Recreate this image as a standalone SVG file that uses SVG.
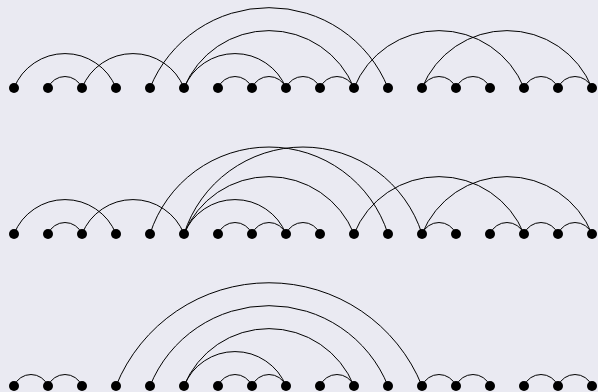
<svg xmlns="http://www.w3.org/2000/svg" width="598" height="392" viewBox="0 0 598 392">
<style>
.e{fill:none;stroke:#000;stroke-width:1}
.n{fill:#000}
</style>
<rect width="598" height="392" fill="#eaeaf2"/>
<g id="connectors">
<g id="row1-arcs">
<path class="e" d="M14 88A55 55 0 0 1 116 88"/>
<path class="e" d="M48 88A18.33 18.33 0 0 1 82 88"/>
<path class="e" d="M82 88A55 55 0 0 1 184 88"/>
<path class="e" d="M150 88A128.3 128.3 0 0 1 388 88"/>
<path class="e" d="M184 88A91.65 91.65 0 0 1 354 88"/>
<path class="e" d="M184 88A55 55 0 0 1 286 88"/>
<path class="e" d="M218 88A18.33 18.33 0 0 1 252 88"/>
<path class="e" d="M252 88A18.33 18.33 0 0 1 286 88"/>
<path class="e" d="M286 88A18.33 18.33 0 0 1 320 88"/>
<path class="e" d="M320 88A18.33 18.33 0 0 1 354 88"/>
<path class="e" d="M354 88A91.65 91.65 0 0 1 524 88"/>
<path class="e" d="M422 88A91.65 91.65 0 0 1 592 88"/>
<path class="e" d="M422 88A18.33 18.33 0 0 1 456 88"/>
<path class="e" d="M456 88A18.33 18.33 0 0 1 490 88"/>
<path class="e" d="M524 88A18.33 18.33 0 0 1 558 88"/>
<path class="e" d="M558 88A18.33 18.33 0 0 1 592 88"/>
</g>
<g id="row2-arcs">
<path class="e" d="M14 234A55 55 0 0 1 116 234"/>
<path class="e" d="M48 234A18.33 18.33 0 0 1 82 234"/>
<path class="e" d="M82 234A55 55 0 0 1 184 234"/>
<path class="e" d="M150 234A124.9 124.9 0 0 1 388 234"/>
<path class="e" d="M184 234A124.9 124.9 0 0 1 422 234"/>
<path class="e" d="M184 234A91.65 91.65 0 0 1 354 234"/>
<path class="e" d="M184 234A55 55 0 0 1 286 234"/>
<path class="e" d="M218 234A18.33 18.33 0 0 1 252 234"/>
<path class="e" d="M252 234A18.33 18.33 0 0 1 286 234"/>
<path class="e" d="M286 234A18.33 18.33 0 0 1 320 234"/>
<path class="e" d="M354 234A91.65 91.65 0 0 1 524 234"/>
<path class="e" d="M422 234A91.65 91.65 0 0 1 592 234"/>
<path class="e" d="M422 234A18.33 18.33 0 0 1 456 234"/>
<path class="e" d="M490 234A18.33 18.33 0 0 1 524 234"/>
<path class="e" d="M524 234A18.33 18.33 0 0 1 558 234"/>
<path class="e" d="M558 234A18.33 18.33 0 0 1 592 234"/>
</g>
<g id="row3-arcs">
<path class="e" d="M14 386A18.33 18.33 0 0 1 48 386"/>
<path class="e" d="M48 386A18.33 18.33 0 0 1 82 386"/>
<path class="e" d="M116 386A165 165 0 0 1 422 386"/>
<path class="e" d="M150 386A128.3 128.3 0 0 1 388 386"/>
<path class="e" d="M184 386A91.65 91.65 0 0 1 354 386"/>
<path class="e" d="M184 386A55 55 0 0 1 286 386"/>
<path class="e" d="M218 386A18.33 18.33 0 0 1 252 386"/>
<path class="e" d="M252 386A18.33 18.33 0 0 1 286 386"/>
<path class="e" d="M320 386A18.33 18.33 0 0 1 354 386"/>
<path class="e" d="M422 386A18.33 18.33 0 0 1 456 386"/>
<path class="e" d="M456 386A18.33 18.33 0 0 1 490 386"/>
<path class="e" d="M524 386A18.33 18.33 0 0 1 558 386"/>
<path class="e" d="M558 386A18.33 18.33 0 0 1 592 386"/>
</g>
</g>
<g id="row1-nodes">
<g id="r1n0"><circle class="n" cx="14" cy="88" r="5"/></g>
<g id="r1n1"><circle class="n" cx="48" cy="88" r="5"/></g>
<g id="r1n2"><circle class="n" cx="82" cy="88" r="5"/></g>
<g id="r1n3"><circle class="n" cx="116" cy="88" r="5"/></g>
<g id="r1n4"><circle class="n" cx="150" cy="88" r="5"/></g>
<g id="r1n5"><circle class="n" cx="184" cy="88" r="5"/></g>
<g id="r1n6"><circle class="n" cx="218" cy="88" r="5"/></g>
<g id="r1n7"><circle class="n" cx="252" cy="88" r="5"/></g>
<g id="r1n8"><circle class="n" cx="286" cy="88" r="5"/></g>
<g id="r1n9"><circle class="n" cx="320" cy="88" r="5"/></g>
<g id="r1n10"><circle class="n" cx="354" cy="88" r="5"/></g>
<g id="r1n11"><circle class="n" cx="388" cy="88" r="5"/></g>
<g id="r1n12"><circle class="n" cx="422" cy="88" r="5"/></g>
<g id="r1n13"><circle class="n" cx="456" cy="88" r="5"/></g>
<g id="r1n14"><circle class="n" cx="490" cy="88" r="5"/></g>
<g id="r1n15"><circle class="n" cx="524" cy="88" r="5"/></g>
<g id="r1n16"><circle class="n" cx="558" cy="88" r="5"/></g>
<g id="r1n17"><circle class="n" cx="592" cy="88" r="5"/></g>
</g>
<g id="row2-nodes">
<g id="r2n0"><circle class="n" cx="14" cy="234" r="5"/></g>
<g id="r2n1"><circle class="n" cx="48" cy="234" r="5"/></g>
<g id="r2n2"><circle class="n" cx="82" cy="234" r="5"/></g>
<g id="r2n3"><circle class="n" cx="116" cy="234" r="5"/></g>
<g id="r2n4"><circle class="n" cx="150" cy="234" r="5"/></g>
<g id="r2n5"><circle class="n" cx="184" cy="234" r="5"/></g>
<g id="r2n6"><circle class="n" cx="218" cy="234" r="5"/></g>
<g id="r2n7"><circle class="n" cx="252" cy="234" r="5"/></g>
<g id="r2n8"><circle class="n" cx="286" cy="234" r="5"/></g>
<g id="r2n9"><circle class="n" cx="320" cy="234" r="5"/></g>
<g id="r2n10"><circle class="n" cx="354" cy="234" r="5"/></g>
<g id="r2n11"><circle class="n" cx="388" cy="234" r="5"/></g>
<g id="r2n12"><circle class="n" cx="422" cy="234" r="5"/></g>
<g id="r2n13"><circle class="n" cx="456" cy="234" r="5"/></g>
<g id="r2n14"><circle class="n" cx="490" cy="234" r="5"/></g>
<g id="r2n15"><circle class="n" cx="524" cy="234" r="5"/></g>
<g id="r2n16"><circle class="n" cx="558" cy="234" r="5"/></g>
<g id="r2n17"><circle class="n" cx="592" cy="234" r="5"/></g>
</g>
<g id="row3-nodes">
<g id="r3n0"><circle class="n" cx="14" cy="386" r="5"/></g>
<g id="r3n1"><circle class="n" cx="48" cy="386" r="5"/></g>
<g id="r3n2"><circle class="n" cx="82" cy="386" r="5"/></g>
<g id="r3n3"><circle class="n" cx="116" cy="386" r="5"/></g>
<g id="r3n4"><circle class="n" cx="150" cy="386" r="5"/></g>
<g id="r3n5"><circle class="n" cx="184" cy="386" r="5"/></g>
<g id="r3n6"><circle class="n" cx="218" cy="386" r="5"/></g>
<g id="r3n7"><circle class="n" cx="252" cy="386" r="5"/></g>
<g id="r3n8"><circle class="n" cx="286" cy="386" r="5"/></g>
<g id="r3n9"><circle class="n" cx="320" cy="386" r="5"/></g>
<g id="r3n10"><circle class="n" cx="354" cy="386" r="5"/></g>
<g id="r3n11"><circle class="n" cx="388" cy="386" r="5"/></g>
<g id="r3n12"><circle class="n" cx="422" cy="386" r="5"/></g>
<g id="r3n13"><circle class="n" cx="456" cy="386" r="5"/></g>
<g id="r3n14"><circle class="n" cx="490" cy="386" r="5"/></g>
<g id="r3n15"><circle class="n" cx="524" cy="386" r="5"/></g>
<g id="r3n16"><circle class="n" cx="558" cy="386" r="5"/></g>
<g id="r3n17"><circle class="n" cx="592" cy="386" r="5"/></g>
</g>
</svg>
